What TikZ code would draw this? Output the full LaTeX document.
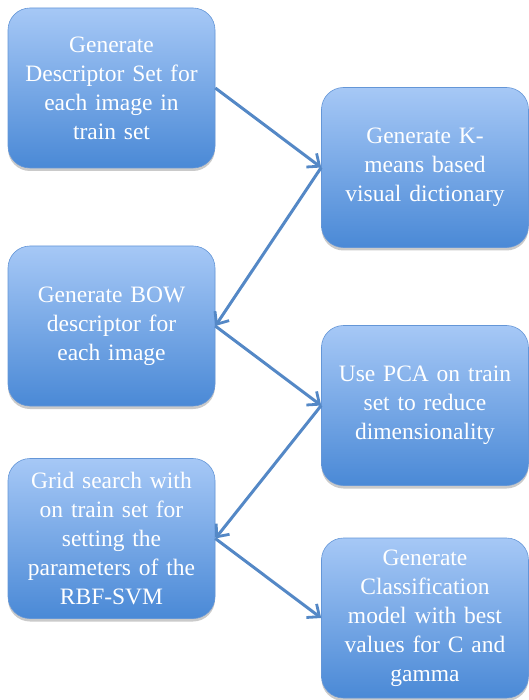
\documentclass[tikz,border=0pt]{standalone}
\usepackage{fontspec}
\setmainfont{Liberation Serif}
\usetikzlibrary{arrows.meta,shadows}
\definecolor{boxtop}{RGB}{166,200,246}
\definecolor{boxbot}{RGB}{74,137,214}
\definecolor{boxedge}{RGB}{100,150,215}
\definecolor{arrowc}{RGB}{84,136,198}
\tikzset{
  stepbox/.style={rectangle, rounded corners=22pt, draw=boxedge, line width=0.6pt,
    top color=boxtop, bottom color=boxbot, text=white,
    minimum width=207pt, minimum height=160pt, align=center, text width=195pt,
    font=\fontsize{23.5}{29}\selectfont, inner sep=0pt,
    drop shadow={shadow xshift=0pt, shadow yshift=-3pt, opacity=0.35, fill=black!60}},
  flow/.style={draw=arrowc, line width=3pt, -{Straight Barb[length=10pt,width=17pt,line width=2.8pt]}}
}
\begin{document}
\begin{tikzpicture}[x=1pt,y=-1pt]
\useasboundingbox (0,0) rectangle (529,700);
\node[stepbox] (a) at (111.5,88) {Generate\\Descriptor Set for\\each image in\\train set};
\node[stepbox] (b) at (425,167.5) {Generate K-\\means based\\visual dictionary};
\node[stepbox] (c) at (111.5,326) {Generate BOW\\descriptor for\\each image};
\node[stepbox] (d) at (425,405.5) {Use PCA on train\\set to reduce\\dimensionality};
\node[stepbox] (e) at (111.5,538.5) {Grid search with\\on train set for\\setting the\\parameters of the\\RBF-SVM};
\node[stepbox] (f) at (425,618) {Generate\\Classification\\model with best\\values for C and\\gamma};
\draw[flow] (a.east) -- (b.west);
\draw[flow] (b.west) -- (c.east);
\draw[flow] (c.east) -- (d.west);
\draw[flow] (d.west) -- (e.east);
\draw[flow] (e.east) -- (f.west);
\end{tikzpicture}
\end{document}
